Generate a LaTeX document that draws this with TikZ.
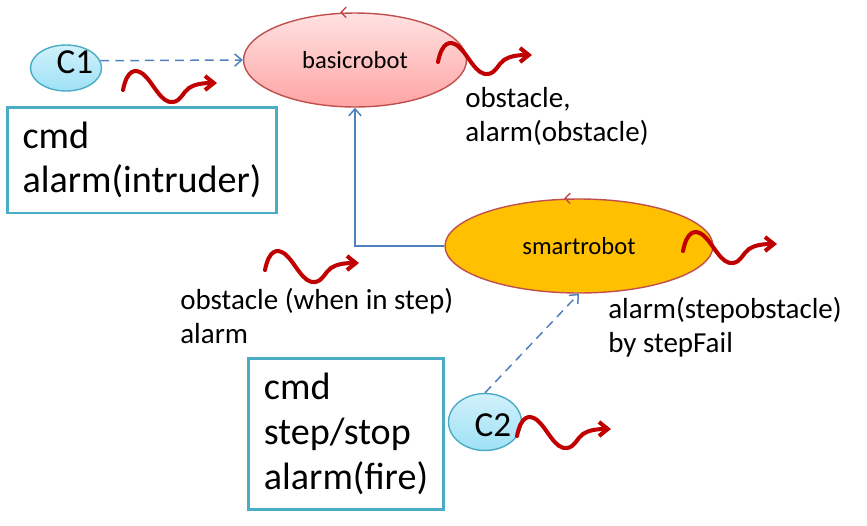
\documentclass[tikz,border=0pt]{standalone}
\usepackage{fontspec}
\setmainfont{Carlito}
\usetikzlibrary{shapes.geometric,arrows.meta}

\definecolor{boxblue}{HTML}{4BACC6}
\definecolor{linkblue}{HTML}{4F81BD}
\definecolor{actorred}{HTML}{C0504D}
\definecolor{msgred}{HTML}{C00000}
\definecolor{smartfill}{HTML}{FFC000}
\definecolor{basictop}{HTML}{FFE2E2}
\definecolor{basicbot}{HTML}{FFA4A4}
\definecolor{clienttop}{HTML}{D2F1FB}
\definecolor{clientbot}{HTML}{9EE1F6}

\tikzset{
  actor/.style={ellipse,draw=actorred,line width=0.8pt,inner sep=0pt,font=\fontsize{14}{17}\selectfont},
  client/.style={ellipse,draw=boxblue,line width=0.8pt,top color=clienttop,bottom color=clientbot,inner sep=0pt},
  msgbox/.style={draw=boxblue,line width=1.7pt,align=left,inner sep=0pt,font=\fontsize{21.7}{25.5}\selectfont},
  note/.style={align=left,inner sep=0pt,anchor=north west,font=\fontsize{16.5}{19.6}\selectfont},
  link/.style={draw=linkblue,line width=0.85pt,-{Straight Barb[length=4pt,width=7pt]}},
  turn/.style={draw=actorred,line width=0.8pt,-{Straight Barb[length=3pt,width=6pt]}},
  wavy/.style={draw=msgred,line width=2.3pt,line cap=round,-{Straight Barb[length=5pt,width=8pt]}},
  wave/.pic={\draw[wavy] (0,0) .. controls (4,-20) and (12,-22) .. (20,-16)
     .. controls (30,-8) and (38,14) .. (50,12)
     .. controls (58,11) and (60,2) .. (66,-2)
     .. controls (72,-6) and (80,-7) .. (94,-7);}
}

\begin{document}
\begin{tikzpicture}[x=0.02cm,y=-0.02cm]
\useasboundingbox (0,0) rectangle (867,525);

% Robots
\node[actor,minimum width=4.46cm,minimum height=1.88cm,top color=basictop,bottom color=basicbot] (basic) at (355,60) {basicrobot};
\node[actor,minimum width=5.36cm,minimum height=1.88cm,fill=smartfill] (smart) at (579,246) {smartrobot};
\draw[turn] ([xshift=-0.24cm]basic.north) -- ([xshift=-0.30cm]basic.north);
\draw[turn] ([xshift=-0.24cm]smart.north) -- ([xshift=-0.30cm]smart.north);

% Clients
\node[client,minimum width=1.42cm,minimum height=0.92cm,
  label={[xshift=0.18cm,yshift=0.11cm,font=\fontsize{20}{24}\selectfont]center:C1}] (c1) at (66,68) {};
\node[client,minimum width=1.46cm,minimum height=1.14cm,
  label={[xshift=0.16cm,yshift=-0.06cm,font=\fontsize{20}{24}\selectfont]center:C2}] (c2) at (485,422) {};

% Messages
\node[msgbox,minimum width=5.40cm,minimum height=2.12cm] (cmd1) at (142,160) {cmd\\alarm(intruder)};
\node[msgbox,minimum width=3.92cm,minimum height=3.04cm] (cmd2) at (346,434) {cmd\\step/stop\\alarm(fire)};
\node[note] (obs1) at (465,87) {obstacle,\\alarm(obstacle)};
\node[note] (obs2) at (180,288) {obstacle (when in step)\\alarm};
\node[note] (fail) at (608,297) {alarm(stepobstacle)\\by stepFail};

% Links
\draw[link,dash pattern=on 5pt off 3.5pt] (c1.12) -- (basic.west);
\draw[link] (smart.west) -| (basic.south);
\draw[link,dash pattern=on 5pt off 3.5pt] (c2.north) -- (smart.south);

% Events
\pic at (123,90) {wave};
\pic at (438,62) {wave};
\pic at (265,270) {wave};
\pic at (683,251) {wave};
\pic at (517,436) {wave};

\end{tikzpicture}
\end{document}
